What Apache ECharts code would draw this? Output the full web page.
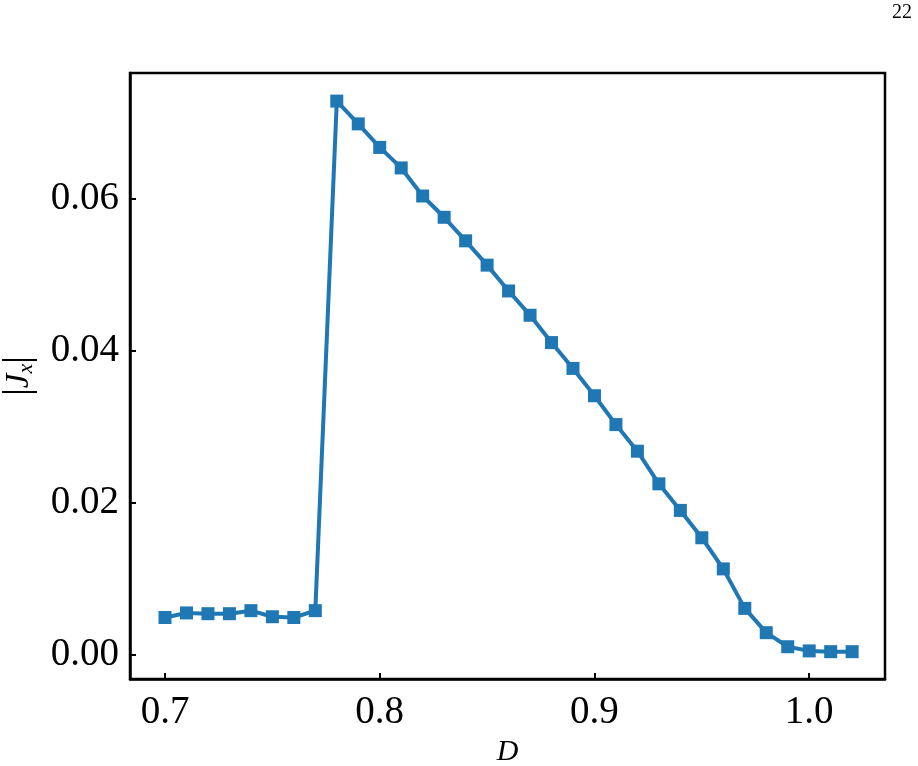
<!DOCTYPE html>
<html>
<head>
<meta charset="utf-8">
<script src="https://cdn.jsdelivr.net/npm/echarts@6/dist/echarts.min.js"></script>
<style>html,body{margin:0;padding:0;background:#fff}#c{width:918px;height:766px}</style>
</head>
<body>
<div id="c"></div>
<script>
const xValues = [0.70,0.71,0.72,0.73,0.74,0.75,0.76,0.77,0.78,0.79,0.80,0.81,0.82,0.83,0.84,0.85,0.86,0.87,0.88,0.89,0.90,0.91,0.92,0.93,0.94,0.95,0.96,0.97,0.98,0.99,1.00,1.01,1.02];
const jxValues = [0.0049,0.0055,0.0054,0.0054,0.0058,0.0050,0.0049,0.0058,0.0729,0.0699,0.0668,0.0641,0.0604,0.0576,0.0545,0.0513,0.0479,0.0447,0.0411,0.0377,0.0341,0.0303,0.0268,0.0225,0.0190,0.0154,0.0113,0.0061,0.0029,0.00105,0.0005,0.0004,0.0004];
const xTicks = [0.7,0.8,0.9,1.0];
const yTicks = [0.00,0.02,0.04,0.06];

const chart = echarts.init(document.getElementById('c'), null, {renderer:'canvas'});
const font = 'Liberation Serif';
chart.setOption({
  animation:false,
  grid:{left:130,right:33,top:73,bottom:87,outerBoundsMode:'none',containLabel:false,show:true,borderColor:'#000',borderWidth:2.5,backgroundColor:'transparent'},
  graphic:[{type:'text',right:6,top:3,style:{text:'22',font:'20px "Liberation Serif"',fill:'#000'}}],
  xAxis:{type:'value',min:0.6837,max:1.0353,
    name:'D',nameLocation:'middle',nameGap:56,
    nameTextStyle:{fontFamily:font,fontStyle:'italic',fontSize:30,color:'#000'},
    axisLine:{show:true,onZero:false,lineStyle:{color:'#000',width:2.5}},
    axisTick:{show:true,inside:true,length:6,lineStyle:{color:'#000',width:2},customValues:xTicks},
    axisLabel:{margin:14,fontFamily:font,fontSize:39,color:'#000',customValues:xTicks,formatter:v=>v.toFixed(1)},
    splitLine:{show:false}},
  yAxis:{type:'value',min:-0.0032,max:0.0766,
    name:'{a||}{b|J}{c|x}{a||}',nameLocation:'middle',nameGap:92,nameRotate:90,
    nameTextStyle:{fontFamily:font,fontSize:34,color:'#000',rich:{
      a:{fontFamily:font,fontSize:38,color:'#000'},
      b:{fontFamily:font,fontSize:33,fontStyle:'italic',color:'#000'},
      c:{fontFamily:font,fontSize:22,fontStyle:'italic',color:'#000',padding:[14,0,0,0]}}},
    axisLine:{show:true,onZero:false,lineStyle:{color:'#000',width:2.5}},
    axisTick:{show:true,inside:true,length:6,lineStyle:{color:'#000',width:2},customValues:yTicks},
    axisLabel:{margin:11,fontFamily:font,fontSize:39,color:'#000',customValues:yTicks,formatter:v=>v.toFixed(2)},
    splitLine:{show:false}},
  series:[{type:'line',data:xValues.map((x,i)=>[x,jxValues[i]]),
    symbol:'rect',symbolSize:13,showAllSymbol:true,
    lineStyle:{color:'#1f77b4',width:4},itemStyle:{color:'#1f77b4'},z:3}]
});
</script>
</body>
</html>
